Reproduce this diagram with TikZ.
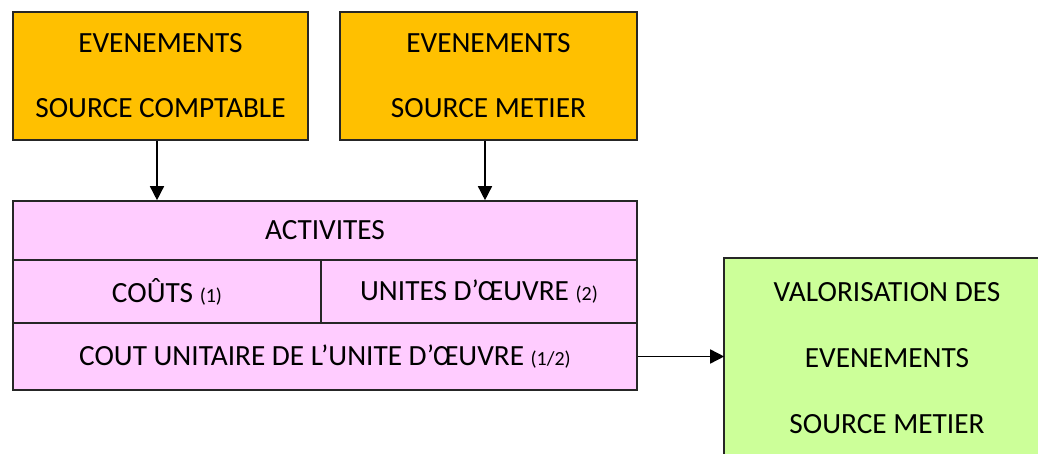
\documentclass[tikz,border=0pt]{standalone}
\usepackage{fontspec}
\setmainfont{Carlito}
\usetikzlibrary{arrows.meta}
\definecolor{orangebox}{HTML}{FFC000}
\definecolor{pinkbox}{HTML}{FFCCFF}
\definecolor{greenbox}{HTML}{CCFF99}
\newcommand{\sm}[1]{{\fontsize{20}{24}\selectfont #1}}
\begin{document}
\begin{tikzpicture}[x=1pt,y=-1pt,
  box/.style={draw=black!85, line width=1.6pt, inner sep=0pt, align=center,
    font=\fontsize{29.3}{65}\selectfont},
  lbl/.style={inner sep=0pt, align=center, font=\fontsize{29.3}{66}\selectfont},
  arr/.style={line width=1.5pt, -{Triangle[length=14pt,width=14pt]}}]
\useasboundingbox (0,0) rectangle (1038,454);
\begin{scope}
\clip (0,0) rectangle (1038,454);
\node[box, fill=orangebox, minimum width=295pt, minimum height=128pt] (A) at (160.5,76) {EVENEMENTS\\SOURCE COMPTABLE};
\node[box, fill=orangebox, minimum width=297pt, minimum height=128pt] (B) at (488.5,76) {EVENEMENTS\\SOURCE METIER};
\node[box, fill=pinkbox, minimum width=624pt, minimum height=59pt] (act) at (325,230.5) {ACTIVITES};
\node[box, fill=pinkbox, minimum width=308pt, minimum height=63pt] (couts) at (167,291.5) {CO\^UTS \sm{(1)}};
\node[box, fill=pinkbox, minimum width=316pt, minimum height=63pt] (unites) at (479,291.5) {UNITES D’ŒUVRE \sm{(2)}};
\node[box, fill=pinkbox, minimum width=624pt, minimum height=67pt] (cout) at (325,356.5) {COUT UNITAIRE DE L’UNITE D’ŒUVRE \sm{(1/2)}};
\node[box, draw=none, fill=greenbox, minimum width=355pt, minimum height=211pt] (val) at (902.5,364.5) {};
\draw[black!85, line width=1.6pt] (val.south west) -- (val.north west) -- (val.north east);
\node[lbl] (valtxt) at (887,358) {VALORISATION DES\\EVENEMENTS\\SOURCE METIER};
\draw[arr] ([xshift=-3.5pt]A.south) -- ([xshift=-3.5pt]A.south |- act.north);
\draw[arr] ([xshift=-3.5pt]B.south) -- ([xshift=-3.5pt]B.south |- act.north);
\draw[arr] (cout.east) -- (cout.east -| val.west);
\end{scope}
\end{tikzpicture}
\end{document}
